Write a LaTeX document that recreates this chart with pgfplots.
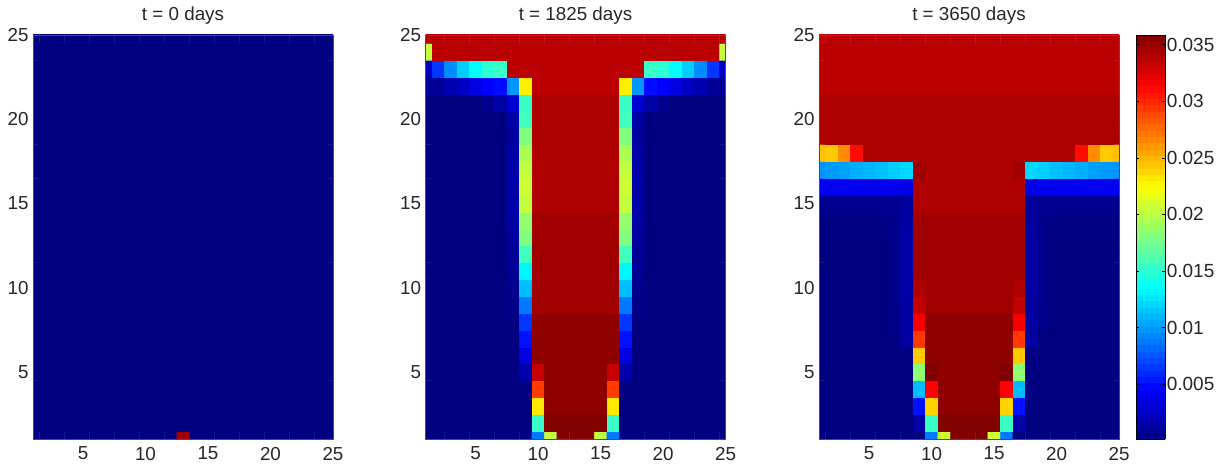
\documentclass[border=0pt]{standalone}
\usepackage{pgfplots}
\pgfplotsset{compat=1.18}
\usepackage{fontspec}
\setmainfont{Liberation Sans}
\newcommand\buildmat[2]{%
  \gdef\tmpc{}%
  \foreach \row [count=\ry] in {#2}{%
    \foreach \v [count=\rx] in \row {\xdef\tmpc{\tmpc (\rx,\ry) [\v]}}}%
  \global\let#1\tmpc}
\def\addmatA#1{\addplot[matrix plot*,mesh/cols=25,mesh/rows=25,mesh/ordering=x varies,point meta=explicit] coordinates {#1};}
\def\addmat#1{\expandafter\addmatA\expandafter{#1}}
% t = 0
\buildmat\matA{
{0,0,0,0,0,0,0,0,0,0,0,0,0.0347,0,0,0,0,0,0,0,0,0,0,0,0},
{0,0,0,0,0,0,0,0,0,0,0,0,0,0,0,0,0,0,0,0,0,0,0,0,0},
{0,0,0,0,0,0,0,0,0,0,0,0,0,0,0,0,0,0,0,0,0,0,0,0,0},
{0,0,0,0,0,0,0,0,0,0,0,0,0,0,0,0,0,0,0,0,0,0,0,0,0},
{0,0,0,0,0,0,0,0,0,0,0,0,0,0,0,0,0,0,0,0,0,0,0,0,0},
{0,0,0,0,0,0,0,0,0,0,0,0,0,0,0,0,0,0,0,0,0,0,0,0,0},
{0,0,0,0,0,0,0,0,0,0,0,0,0,0,0,0,0,0,0,0,0,0,0,0,0},
{0,0,0,0,0,0,0,0,0,0,0,0,0,0,0,0,0,0,0,0,0,0,0,0,0},
{0,0,0,0,0,0,0,0,0,0,0,0,0,0,0,0,0,0,0,0,0,0,0,0,0},
{0,0,0,0,0,0,0,0,0,0,0,0,0,0,0,0,0,0,0,0,0,0,0,0,0},
{0,0,0,0,0,0,0,0,0,0,0,0,0,0,0,0,0,0,0,0,0,0,0,0,0},
{0,0,0,0,0,0,0,0,0,0,0,0,0,0,0,0,0,0,0,0,0,0,0,0,0},
{0,0,0,0,0,0,0,0,0,0,0,0,0,0,0,0,0,0,0,0,0,0,0,0,0},
{0,0,0,0,0,0,0,0,0,0,0,0,0,0,0,0,0,0,0,0,0,0,0,0,0},
{0,0,0,0,0,0,0,0,0,0,0,0,0,0,0,0,0,0,0,0,0,0,0,0,0},
{0,0,0,0,0,0,0,0,0,0,0,0,0,0,0,0,0,0,0,0,0,0,0,0,0},
{0,0,0,0,0,0,0,0,0,0,0,0,0,0,0,0,0,0,0,0,0,0,0,0,0},
{0,0,0,0,0,0,0,0,0,0,0,0,0,0,0,0,0,0,0,0,0,0,0,0,0},
{0,0,0,0,0,0,0,0,0,0,0,0,0,0,0,0,0,0,0,0,0,0,0,0,0},
{0,0,0,0,0,0,0,0,0,0,0,0,0,0,0,0,0,0,0,0,0,0,0,0,0},
{0,0,0,0,0,0,0,0,0,0,0,0,0,0,0,0,0,0,0,0,0,0,0,0,0},
{0,0,0,0,0,0,0,0,0,0,0,0,0,0,0,0,0,0,0,0,0,0,0,0,0},
{0,0,0,0,0,0,0,0,0,0,0,0,0,0,0,0,0,0,0,0,0,0,0,0,0},
{0,0,0,0,0,0,0,0,0,0,0,0,0,0,0,0,0,0,0,0,0,0,0,0,0},
{0,0,0,0,0,0,0,0,0,0,0,0,0,0,0,0,0,0,0,0,0,0,0,0,0}}
% t = 1825
\buildmat\matB{
{0,0,0,0,0,0,0,0,0,0.0088,0.0203,0.0358,0.0358,0.0358,0.0203,0.0088,0,0,0,0,0,0,0,0,0},
{0,0,0,0,0,0,0,0,0,0.0155,0.0358,0.0358,0.0358,0.0358,0.0358,0.0155,0,0,0,0,0,0,0,0,0},
{0,0,0,0,0,0,0,0,0,0.0232,0.0353,0.0353,0.0353,0.0353,0.0353,0.0232,0,0,0,0,0,0,0,0,0},
{0,0,0,0,0,0,0,0,0,0.0293,0.0353,0.0353,0.0353,0.0353,0.0353,0.0293,0,0,0,0,0,0,0,0,0},
{0,0,0,0,0,0,0,0,0.0015,0.0334,0.0353,0.0353,0.0353,0.0353,0.0353,0.0334,0.0015,0,0,0,0,0,0,0,0},
{0,0,0,0,0,0,0,0,0.0035,0.0353,0.0353,0.0353,0.0353,0.0353,0.0353,0.0353,0.0035,0,0,0,0,0,0,0,0},
{0,0,0,0,0,0,0,0,0.0052,0.0353,0.0353,0.0353,0.0353,0.0353,0.0353,0.0353,0.0052,0,0,0,0,0,0,0,0},
{0,0,0,0,0,0,0,0,0.0065,0.0353,0.0353,0.0353,0.0353,0.0353,0.0353,0.0353,0.0065,0,0,0,0,0,0,0,0},
{0,0,0,0,0,0,0,0.0005,0.0088,0.0347,0.0347,0.0347,0.0347,0.0347,0.0347,0.0347,0.0088,0.0005,0,0,0,0,0,0,0},
{0,0,0,0,0,0,0,0.0006,0.0112,0.0347,0.0347,0.0347,0.0347,0.0347,0.0347,0.0347,0.0112,0.0006,0,0,0,0,0,0,0},
{0,0,0,0,0,0,0,0.0008,0.0132,0.0347,0.0347,0.0347,0.0347,0.0347,0.0347,0.0347,0.0132,0.0008,0,0,0,0,0,0,0},
{0,0,0,0,0,0,0,0.0010,0.0158,0.0347,0.0347,0.0347,0.0347,0.0347,0.0347,0.0347,0.0158,0.0010,0,0,0,0,0,0,0},
{0,0,0,0,0,0,0,0.0012,0.0180,0.0347,0.0347,0.0347,0.0347,0.0347,0.0347,0.0347,0.0180,0.0012,0,0,0,0,0,0,0},
{0,0,0,0,0,0,0,0.0014,0.0187,0.0347,0.0347,0.0347,0.0347,0.0347,0.0347,0.0347,0.0187,0.0014,0,0,0,0,0,0,0},
{0,0,0,0,0,0,0,0.0016,0.0203,0.0342,0.0342,0.0342,0.0342,0.0342,0.0342,0.0342,0.0203,0.0016,0,0,0,0,0,0,0},
{0,0,0,0,0,0,0,0.0016,0.0207,0.0342,0.0342,0.0342,0.0342,0.0342,0.0342,0.0342,0.0207,0.0016,0,0,0,0,0,0,0},
{0,0,0,0,0,0,0,0.0016,0.0203,0.0342,0.0342,0.0342,0.0342,0.0342,0.0342,0.0342,0.0203,0.0016,0,0,0,0,0,0,0},
{0,0,0,0,0,0,0,0.0015,0.0195,0.0342,0.0342,0.0342,0.0342,0.0342,0.0342,0.0342,0.0195,0.0015,0,0,0,0,0,0,0},
{0,0,0,0,0,0,0,0.0012,0.0180,0.0342,0.0342,0.0342,0.0342,0.0342,0.0342,0.0342,0.0180,0.0012,0,0,0,0,0,0,0},
{0,0,0,0,0,0,0,0.0015,0.0158,0.0342,0.0342,0.0342,0.0342,0.0342,0.0342,0.0342,0.0158,0.0015,0,0,0,0,0,0,0},
{0,0,0,0,0,0.0006,0.0015,0.0030,0.0155,0.0342,0.0342,0.0342,0.0342,0.0342,0.0342,0.0342,0.0155,0.0030,0.0015,0.0006,0,0,0,0,0},
{0.0010,0.0010,0.0018,0.0025,0.0035,0.0046,0.0050,0.0098,0.0230,0.0338,0.0338,0.0338,0.0338,0.0338,0.0338,0.0338,0.0230,0.0098,0.0050,0.0046,0.0035,0.0025,0.0018,0.0010,0.0010},
{0.0025,0.0065,0.0095,0.0118,0.0135,0.0150,0.0155,0.0338,0.0338,0.0338,0.0338,0.0338,0.0338,0.0338,0.0338,0.0338,0.0338,0.0338,0.0155,0.0150,0.0135,0.0118,0.0095,0.0065,0.0025},
{0.0203,0.0338,0.0338,0.0338,0.0338,0.0338,0.0338,0.0338,0.0338,0.0338,0.0338,0.0338,0.0338,0.0338,0.0338,0.0338,0.0338,0.0338,0.0338,0.0338,0.0338,0.0338,0.0338,0.0338,0.0203},
{0.0338,0.0338,0.0338,0.0338,0.0338,0.0338,0.0338,0.0338,0.0338,0.0338,0.0338,0.0338,0.0338,0.0338,0.0338,0.0338,0.0338,0.0338,0.0338,0.0338,0.0338,0.0338,0.0338,0.0338,0.0338}}
% t = 3650
\buildmat\matC{
{0,0,0,0,0,0,0,0,0,0.0088,0.0207,0.0358,0.0358,0.0358,0.0207,0.0088,0,0,0,0,0,0,0,0,0},
{0,0,0,0,0,0,0,0,0.0015,0.0155,0.0358,0.0358,0.0358,0.0358,0.0358,0.0155,0.0015,0,0,0,0,0,0,0,0},
{0,0,0,0,0,0,0,0,0.0052,0.0240,0.0353,0.0353,0.0353,0.0353,0.0353,0.0240,0.0052,0,0,0,0,0,0,0,0},
{0,0,0,0,0,0,0,0,0.0112,0.0314,0.0353,0.0353,0.0353,0.0353,0.0353,0.0314,0.0112,0,0,0,0,0,0,0,0},
{0,0,0,0,0,0,0,0,0.0185,0.0358,0.0353,0.0353,0.0353,0.0353,0.0353,0.0358,0.0185,0,0,0,0,0,0,0,0},
{0,0,0,0,0,0,0,0,0.0243,0.0353,0.0353,0.0353,0.0353,0.0353,0.0353,0.0353,0.0243,0,0,0,0,0,0,0,0},
{0,0,0,0,0,0,0,0.0013,0.0294,0.0353,0.0353,0.0353,0.0353,0.0353,0.0353,0.0353,0.0294,0.0013,0,0,0,0,0,0,0},
{0,0,0,0,0,0,0.0005,0.0013,0.0316,0.0353,0.0353,0.0353,0.0353,0.0353,0.0353,0.0353,0.0316,0.0013,0.0005,0,0,0,0,0,0},
{0,0,0,0,0,0,0.0005,0.0013,0.0335,0.0347,0.0347,0.0347,0.0347,0.0347,0.0347,0.0347,0.0335,0.0013,0.0005,0,0,0,0,0,0},
{0,0,0,0,0,0,0.0005,0.0015,0.0342,0.0347,0.0347,0.0347,0.0347,0.0347,0.0347,0.0347,0.0342,0.0015,0.0005,0,0,0,0,0,0},
{0,0,0,0,0,0,0.0005,0.0015,0.0347,0.0347,0.0347,0.0347,0.0347,0.0347,0.0347,0.0347,0.0347,0.0015,0.0005,0,0,0,0,0,0},
{0,0,0,0,0,0,0.0005,0.0015,0.0347,0.0347,0.0347,0.0347,0.0347,0.0347,0.0347,0.0347,0.0347,0.0015,0.0005,0,0,0,0,0,0},
{0,0,0,0,0,0,0.0005,0.0014,0.0347,0.0347,0.0347,0.0347,0.0347,0.0347,0.0347,0.0347,0.0347,0.0014,0.0005,0,0,0,0,0,0},
{0.0003,0.0003,0.0003,0.0003,0.0003,0.0003,0.0005,0.0013,0.0347,0.0347,0.0347,0.0347,0.0347,0.0347,0.0347,0.0347,0.0347,0.0013,0.0005,0.0003,0.0003,0.0003,0.0003,0.0003,0.0003},
{0.0007,0.0007,0.0007,0.0007,0.0007,0.0007,0.0007,0.0011,0.0342,0.0342,0.0342,0.0342,0.0342,0.0342,0.0342,0.0342,0.0342,0.0011,0.0007,0.0007,0.0007,0.0007,0.0007,0.0007,0.0007},
{0.0040,0.0040,0.0040,0.0040,0.0040,0.0040,0.0040,0.0037,0.0342,0.0342,0.0342,0.0342,0.0342,0.0342,0.0342,0.0342,0.0342,0.0037,0.0040,0.0040,0.0040,0.0040,0.0040,0.0040,0.0040},
{0.0098,0.0100,0.0102,0.0107,0.0110,0.0113,0.0118,0.0122,0.0347,0.0342,0.0342,0.0342,0.0342,0.0342,0.0342,0.0342,0.0347,0.0122,0.0118,0.0113,0.0110,0.0107,0.0102,0.0100,0.0098},
{0.0247,0.0243,0.0265,0.0310,0.0342,0.0342,0.0342,0.0342,0.0342,0.0342,0.0342,0.0342,0.0342,0.0342,0.0342,0.0342,0.0342,0.0342,0.0342,0.0342,0.0342,0.0310,0.0265,0.0243,0.0247},
{0.0342,0.0342,0.0342,0.0342,0.0342,0.0342,0.0342,0.0342,0.0342,0.0342,0.0342,0.0342,0.0342,0.0342,0.0342,0.0342,0.0342,0.0342,0.0342,0.0342,0.0342,0.0342,0.0342,0.0342,0.0342},
{0.0342,0.0342,0.0342,0.0342,0.0342,0.0342,0.0342,0.0342,0.0342,0.0342,0.0342,0.0342,0.0342,0.0342,0.0342,0.0342,0.0342,0.0342,0.0342,0.0342,0.0342,0.0342,0.0342,0.0342,0.0342},
{0.0342,0.0342,0.0342,0.0342,0.0342,0.0342,0.0342,0.0342,0.0342,0.0342,0.0342,0.0342,0.0342,0.0342,0.0342,0.0342,0.0342,0.0342,0.0342,0.0342,0.0342,0.0342,0.0342,0.0342,0.0342},
{0.0338,0.0338,0.0338,0.0338,0.0338,0.0338,0.0338,0.0338,0.0338,0.0338,0.0338,0.0338,0.0338,0.0338,0.0338,0.0338,0.0338,0.0338,0.0338,0.0338,0.0338,0.0338,0.0338,0.0338,0.0338},
{0.0338,0.0338,0.0338,0.0338,0.0338,0.0338,0.0338,0.0338,0.0338,0.0338,0.0338,0.0338,0.0338,0.0338,0.0338,0.0338,0.0338,0.0338,0.0338,0.0338,0.0338,0.0338,0.0338,0.0338,0.0338},
{0.0338,0.0338,0.0338,0.0338,0.0338,0.0338,0.0338,0.0338,0.0338,0.0338,0.0338,0.0338,0.0338,0.0338,0.0338,0.0338,0.0338,0.0338,0.0338,0.0338,0.0338,0.0338,0.0338,0.0338,0.0338},
{0.0338,0.0338,0.0338,0.0338,0.0338,0.0338,0.0338,0.0338,0.0338,0.0338,0.0338,0.0338,0.0338,0.0338,0.0338,0.0338,0.0338,0.0338,0.0338,0.0338,0.0338,0.0338,0.0338,0.0338,0.0338}}
\pgfplotsset{
  panel/.style={
    scale only axis, width=300bp, height=404.5bp,
    xmin=1, xmax=25, ymin=1, ymax=25,
    xtick={5,10,15,20,25}, ytick={5,10,15,20,25},
    colormap/jet,
    point meta min=0.00013, point meta max=0.03584,
    tick align=inside, tick pos=left, major tick length=0bp,
    tick style={draw=none},
    axis line style={draw=black!70, line width=0.4pt},
    axis on top,
    tick label style={font=\fontsize{18.8bp}{20bp}\selectfont, text=black!85},
    /pgf/number format/assume math mode=true,
    title style={font=\fontsize{18.8bp}{21bp}\selectfont, text=black!85, yshift=1.5bp},
    xticklabel style={yshift=-4bp},
    yticklabel style={xshift=-1bp},
  }
}
\begin{document}
\begin{tikzpicture}
\path[use as bounding box] (0,0) rectangle (1228bp,467bp);
\begin{axis}[panel, at={(33bp,27.5bp)}, anchor=south west, title={t = 0 days}]
\addmat\matA
\end{axis}
\begin{axis}[panel, at={(425.5bp,27.5bp)}, anchor=south west, title={t = 1825 days}]
\addmat\matB
\end{axis}
\begin{axis}[panel, at={(819bp,27.5bp)}, anchor=south west, title={t = 3650 days},
  colorbar sampled,
  colorbar style={
    samples=65,
    at={(1.0575,0)}, anchor=south west,
    width=29bp, height=404.5bp,
    scaled y ticks=false,
    ytick={0.005,0.01,0.015,0.02,0.025,0.03,0.035},
    yticklabels={0.005,0.01,0.015,0.02,0.025,0.03,0.035},
    yticklabel pos=right, ytick pos=both,
    tick align=inside, major tick length=3bp,
    ytick style={draw=black, line width=0.5pt},
    axis line style={draw=black, line width=0.7pt},
    yticklabel style={font=\fontsize{19bp}{20bp}\selectfont, text=black!85, xshift=-2bp},
  }]
\addmat\matC
\end{axis}
\end{tikzpicture}
\end{document}
